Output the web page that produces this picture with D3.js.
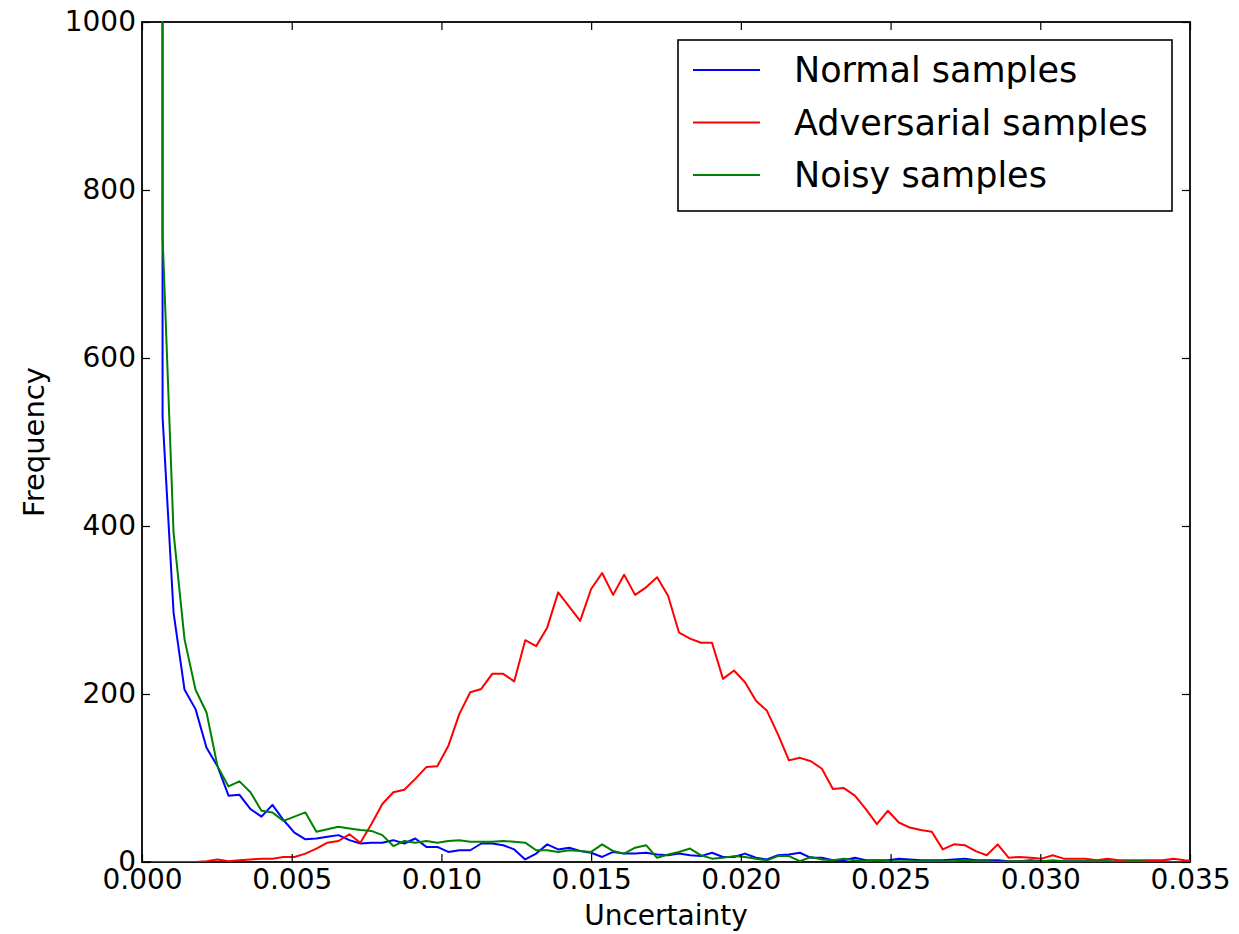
<!DOCTYPE html>
<html>
<head>
<meta charset="utf-8">
<script src="https://cdn.jsdelivr.net/npm/d3@7/dist/d3.min.js"></script>
<style>
  body { margin: 0; background: #fff; }
  text { font-family: "DejaVu Sans", sans-serif; fill: #000; }
</style>
</head>
<body>
<svg id="chart" width="1239" height="934"></svg>
<script>
// histogram bins shared by the three curves
var binStart = 0.00032;
var binWidth = 0.000367;

// first bin of normal / noisy curves shoots way over the top
var spikeUncertainty = 0.00068;
var normalSpike = 2600;
var noisySpike = 2400;

// counts from bin 1 onwards
var normalCounts = [530, 297, 205, 182, 136, 114, 79, 80, 63, 54, 68, 50, 35, 27, 28, 30, 32, 26, 22, 23,
  23, 26, 22, 28, 18, 18, 12, 14, 14, 22, 22, 20, 15, 3, 10, 21, 15, 17, 13, 11,
  6, 12, 10, 10, 11, 9, 8, 10, 8, 7, 11, 6, 6, 10, 5, 3, 8, 9, 11, 5,
  5, 2, 2, 5, 2, 2, 2, 4, 3, 2, 2, 2, 3, 4, 2, 2, 2, 1, 1, 2,
  1, 1, 1, 1, 1, 1, 1, 0, 1, 0, 0, 1, 0, 0, 0];
var noisyCounts = [745, 392, 265, 205, 178, 114, 90, 96, 83, 61, 59, 49, 54, 59, 36, 39, 42, 40, 38, 37,
  32, 19, 25, 23, 25, 23, 25, 26, 24, 24, 24, 25, 24, 23, 14, 14, 12, 14, 13, 12,
  21, 13, 10, 17, 20, 5, 9, 12, 16, 8, 4, 5, 7, 6, 4, 2, 7, 7, 1, 6,
  3, 2, 4, 2, 1, 2, 1, 1, 1, 1, 1, 1, 1, 2, 1, 1, 0, 1, 1, 1,
  1, 2, 1, 1, 1, 1, 1, 0, 1, 1, 0, 0, 0, 0, 0];
// counts from bin 0
var adversarialCounts = [0, 0, 0, 0, 0, 1, 3, 1, 2, 3, 4, 4, 6, 6, 10, 16, 23, 25, 33, 23,
  45, 69, 83, 86, 99, 113, 114, 138, 176, 202, 206, 224, 224, 215, 264, 257, 279, 321, 304, 287,
  325, 344, 318, 342, 318, 327, 339, 317, 273, 266, 261, 261, 218, 228, 214, 192, 180, 152, 121, 124,
  120, 111, 87, 88, 79, 63, 45, 61, 47, 41, 38, 36, 15, 21, 20, 13, 8, 21, 5, 6,
  5, 4, 8, 4, 4, 4, 2, 4, 2, 2, 2, 2, 2, 4, 2, 1];

var seriesNames = ["Normal samples", "Adversarial samples", "Noisy samples"];
var seriesColors = ["#0000ff", "#ff0000", "#008000"];
var xTicks = [0, 0.005, 0.010, 0.015, 0.020, 0.025, 0.030, 0.035];
var yTicks = [0, 200, 400, 600, 800, 1000];

var mLeft = 142, mTop = 22, w = 1048, h = 840;
var svg = d3.select("#chart");

var x = d3.scaleLinear().domain([0, 0.035]).range([0, w]);
var y = d3.scaleLinear().domain([0, 1000]).range([h, 0]);

function toPoints(counts, firstBin) {
  return counts.map(function (c, i) {
    return [binStart + (firstBin + i) * binWidth, c];
  });
}

var normalPts = [[spikeUncertainty, normalSpike]].concat(toPoints(normalCounts, 1));
var noisyPts = [[spikeUncertainty, noisySpike]].concat(toPoints(noisyCounts, 1));
var advPts = toPoints(adversarialCounts, 0);
var allSeries = [normalPts, advPts, noisyPts];

var g = svg.append("g").attr("transform", "translate(" + mLeft + "," + mTop + ")");

// frame first, curves drawn over it
g.append("rect").attr("width", w).attr("height", h)
  .attr("fill", "none").attr("stroke", "#000").attr("stroke-width", 1.8);

g.append("clipPath").attr("id", "clip")
  .append("rect").attr("y", -1).attr("width", w).attr("height", h + 1);

var line = d3.line()
  .x(function (d) { return x(d[0]); })
  .y(function (d) { return y(d[1]); });

g.append("g").attr("clip-path", "url(#clip)")
  .selectAll("path").data(allSeries).enter()
  .append("path")
  .attr("d", line)
  .attr("fill", "none")
  .attr("stroke", function (d, i) { return seriesColors[i]; })
  .attr("stroke-width", 2)
  .attr("stroke-linejoin", "round");

// axes, ticks pointing inward like matplotlib classic
var tickLen = 8;
var xBottom = d3.axisBottom(x).tickValues(xTicks).tickFormat(d3.format(".3f")).tickSizeInner(-tickLen).tickSizeOuter(0).tickPadding(7);
var xTop = d3.axisTop(x).tickValues(xTicks).tickFormat("").tickSizeInner(-tickLen).tickSizeOuter(0);
var yLeft = d3.axisLeft(y).tickValues(yTicks).tickFormat(d3.format("d")).tickSizeInner(-tickLen).tickSizeOuter(0).tickPadding(6);
var yRight = d3.axisRight(y).tickValues(yTicks).tickFormat("").tickSizeInner(-tickLen).tickSizeOuter(0);

function styleAxis(sel) {
  sel.select(".domain").remove();
  sel.selectAll("line").attr("stroke", "#000").attr("stroke-width", 1.2);
  sel.selectAll("text").style("font-size", "28px").style("font-family", "DejaVu Sans, sans-serif");
}

g.append("g").attr("transform", "translate(0," + h + ")").call(xBottom).call(styleAxis);
g.append("g").call(xTop).call(styleAxis);
g.append("g").call(yLeft).call(styleAxis);
g.append("g").attr("transform", "translate(" + w + ",0)").call(yRight).call(styleAxis);

// axis labels
svg.append("text")
  .attr("x", mLeft + w / 2).attr("y", 925)
  .attr("text-anchor", "middle").style("font-size", "28px")
  .text("Uncertainty");
svg.append("text")
  .attr("transform", "translate(44," + (mTop + h / 2) + ") rotate(-90)")
  .attr("text-anchor", "middle").style("font-size", "29px")
  .text("Frequency");

// legend
var lg = svg.append("g").attr("transform", "translate(678,40)");
lg.append("rect").attr("width", 494).attr("height", 171)
  .attr("fill", "#fff").attr("stroke", "#000").attr("stroke-width", 1.6);
var items = lg.selectAll("g.item").data(seriesNames).enter()
  .append("g").attr("class", "item")
  .attr("transform", function (d, i) { return "translate(0," + (30 + i * 52.5) + ")"; });
items.append("line")
  .attr("x1", 15).attr("x2", 82).attr("y1", 0).attr("y2", 0)
  .attr("stroke", function (d, i) { return seriesColors[i]; })
  .attr("stroke-width", 2);
items.append("text")
  .attr("x", 116).attr("y", 12)
  .style("font-size", "35px")
  .text(function (d) { return d; });
</script>
</body>
</html>
